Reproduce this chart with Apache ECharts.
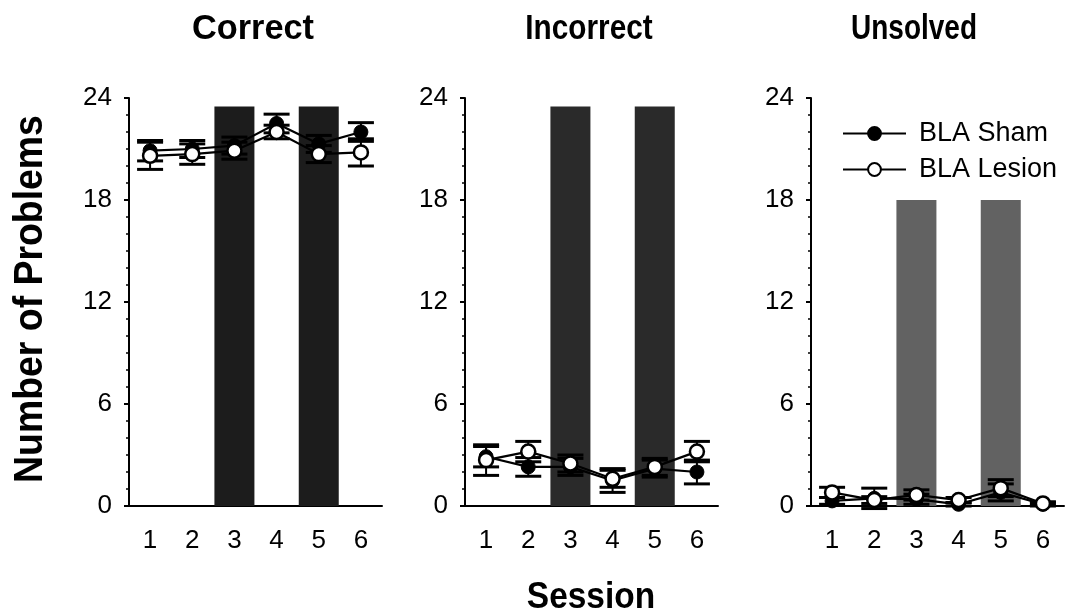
<!DOCTYPE html>
<html>
<head>
<meta charset="utf-8">
<script src="https://cdn.jsdelivr.net/npm/echarts@6/dist/echarts.min.js"></script>
<style>html,body{margin:0;padding:0;background:#fff}#c{width:1071px;height:615px}</style>
</head>
<body>
<div id="c"></div>
<script>
// ---- data ----
const sessions = ['1', '2', '3', '4', '5', '6'];
const yTicks = [0, 6, 12, 18, 24];
const panelTitles = ['Correct', 'Incorrect', 'Unsolved'];
const seriesNames = ['BLA Sham', 'BLA Lesion'];

const correctSham = [20.9, 21.0, 21.2, 22.5, 21.3, 22.0];
const correctShamSE = [0.6, 0.5, 0.5, 0.55, 0.5, 0.55];
const correctLesion = [20.6, 20.7, 20.9, 22.0, 20.7, 20.8];
const correctLesionSE = [0.8, 0.6, 0.5, 0.4, 0.5, 0.8];

const incorrectSham = [2.9, 2.3, 2.3, 1.5, 2.2, 2.0];
const incorrectShamSE = [0.6, 0.55, 0.5, 0.7, 0.5, 0.7];
const incorrectLesion = [2.7, 3.2, 2.5, 1.6, 2.3, 3.2];
const incorrectLesionSE = [0.9, 0.6, 0.5, 0.5, 0.5, 0.6];

const unsolvedSham = [0.3, 0.45, 0.4, 0.1, 0.8, 0.1];
const unsolvedShamSE = [0.2, 0.6, 0.3, 0.1, 0.5, 0.1];
const unsolvedLesion = [0.8, 0.35, 0.65, 0.35, 1.05, 0.15];
const unsolvedLesionSE = [0.3, 0.2, 0.3, 0.15, 0.5, 0.1];

// shaded session bars (sessions 3 and 5)
const correctBars = [null, null, 23.5, null, 23.5, null];
const incorrectBars = [null, null, 23.5, null, 23.5, null];
const unsolvedBars = [null, null, 18, null, 18, null];

// ---- layout ----
const FONT = 'Liberation Sans, Arial, sans-serif';
const gridLefts = [129, 465, 811];
const gridW = 253;
const gridTop = 98;
const gridH = 408;
const barColors = ['#1c1c1c', '#2a2a2a', '#626262'];

const panels = [
  {sham: correctSham, shamSE: correctShamSE, les: correctLesion, lesSE: correctLesionSE, bars: correctBars},
  {sham: incorrectSham, shamSE: incorrectShamSE, les: incorrectLesion, lesSE: incorrectLesionSE, bars: incorrectBars},
  {sham: unsolvedSham, shamSE: unsolvedShamSE, les: unsolvedLesion, lesSE: unsolvedLesionSE, bars: unsolvedBars}
];

function errRender(params, api) {
  const x = api.value(0), lo = api.value(1), hi = api.value(2);
  const a = api.coord([x, lo]), b = api.coord([x, hi]);
  const w = 13;
  const st = {stroke: '#000', lineWidth: 2};
  const cap = {stroke: '#000', lineWidth: 3};
  return {
    type: 'group',
    children: [
      {type: 'line', shape: {x1: a[0], y1: a[1], x2: b[0], y2: b[1]}, style: st},
      {type: 'line', shape: {x1: a[0] - w, y1: a[1], x2: a[0] + w, y2: a[1]}, style: cap},
      {type: 'line', shape: {x1: b[0] - w, y1: b[1], x2: b[0] + w, y2: b[1]}, style: cap}
    ]
  };
}

const grids = [], xAxes = [], yAxes = [], series = [];
panels.forEach((p, k) => {
  grids.push({left: gridLefts[k], top: gridTop, width: gridW, height: gridH});
  xAxes.push({
    type: 'category', gridIndex: k, data: sessions, boundaryGap: true,
    axisLine: {lineStyle: {color: '#000', width: 2}},
    axisTick: {alignWithLabel: true, length: 5, lineStyle: {color: '#000', width: 2}},
    axisLabel: {color: '#000', fontSize: 26, fontFamily: FONT, margin: 22},
    splitLine: {show: false}
  });
  yAxes.push({
    type: 'value', gridIndex: k, min: yTicks[0], max: yTicks[yTicks.length - 1], interval: yTicks[1] - yTicks[0],
    axisLine: {show: true, lineStyle: {color: '#000', width: 2}},
    axisTick: {show: true, length: 5, lineStyle: {color: '#000', width: 2}},
    minorTick: {show: true, splitNumber: 6, length: 3, lineStyle: {color: '#000', width: 1.5}},
    axisLabel: {color: '#000', fontSize: 26, fontFamily: FONT, margin: 17},
    splitLine: {show: false}
  });
  series.push({
    type: 'bar', xAxisIndex: k, yAxisIndex: k, data: p.bars, barWidth: 40,
    itemStyle: {color: barColors[k]}, z: 1, silent: true
  });
  const errS = sessions.map((s, i) => [i, p.sham[i] - p.shamSE[i], p.sham[i] + p.shamSE[i]]);
  const errL = sessions.map((s, i) => [i, p.les[i] - p.lesSE[i], p.les[i] + p.lesSE[i]]);
  series.push({type: 'custom', xAxisIndex: k, yAxisIndex: k, renderItem: errRender, data: errS, z: 3, silent: true});
  series.push({type: 'custom', xAxisIndex: k, yAxisIndex: k, renderItem: errRender, data: errL, z: 3, silent: true});
  series.push({
    type: 'line', name: seriesNames[0], xAxisIndex: k, yAxisIndex: k, data: p.sham,
    symbol: 'circle', symbolSize: 14, showAllSymbol: true,
    lineStyle: {color: '#000', width: 2.2},
    itemStyle: {color: '#000', borderColor: '#000', borderWidth: 1},
    z: 4, animation: false
  });
  series.push({
    type: 'line', name: seriesNames[1], xAxisIndex: k, yAxisIndex: k, data: p.les,
    symbol: 'circle', symbolSize: 14, showAllSymbol: true,
    lineStyle: {color: '#000', width: 2.2},
    itemStyle: {color: '#fff', borderColor: '#000', borderWidth: 2.5},
    z: 5, animation: false
  });
});

const titleXs = [253, 589, 914];
const titleScale = [0.98, 0.85, 0.8];
const graphics = panelTitles.map((t, k) => ({
  type: 'text', x: titleXs[k], y: 29, scaleX: titleScale[k],
  style: {text: t, fill: '#000', font: 'bold 35px ' + FONT, textAlign: 'center', textVerticalAlign: 'middle'}
}));
graphics.push({
  type: 'text', x: 31, y: 299, rotation: Math.PI / 2, scaleX: 0.935,
  style: {text: 'Number of Problems', fill: '#000', font: 'bold 40px ' + FONT, textAlign: 'center', textVerticalAlign: 'middle'}
});
graphics.push({
  type: 'text', x: 591, y: 598, scaleX: 0.93,
  style: {text: 'Session', fill: '#000', font: 'bold 36px ' + FONT, textAlign: 'center', textVerticalAlign: 'middle'}
});

const chart = echarts.init(document.getElementById('c'), null, {renderer: 'canvas'});
chart.setOption({
  animation: false,
  backgroundColor: '#fff',
  grid: grids,
  xAxis: xAxes,
  yAxis: yAxes,
  legend: {
    data: seriesNames, orient: 'vertical', left: 837, top: 115,
    itemWidth: 63, itemHeight: 16, itemGap: 9,
    textStyle: {color: '#000', fontSize: 27, fontFamily: FONT, padding: [0, 0, 0, 8]},
    selectedMode: false
  },
  graphic: graphics,
  series: series
});
</script>
</body>
</html>
